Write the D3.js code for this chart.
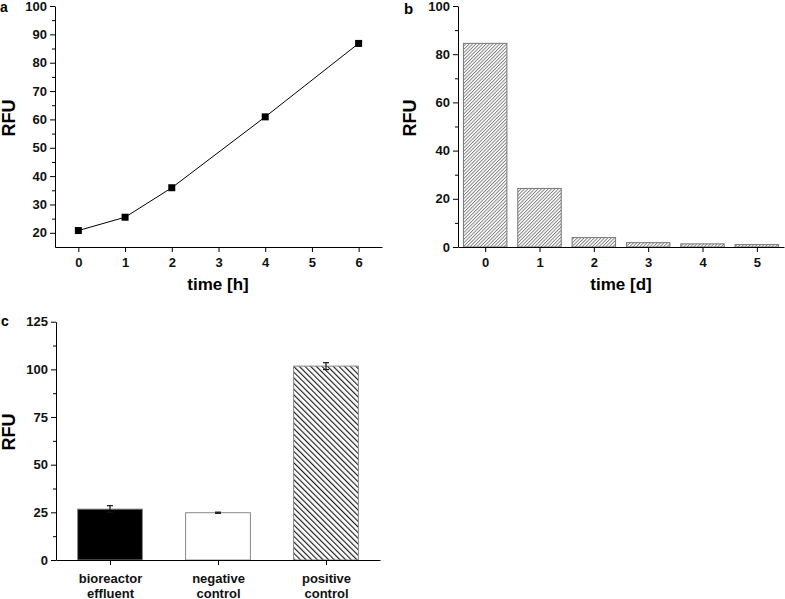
<!DOCTYPE html>
<html>
<head>
  <script src="https://d3js.org/d3.v7.min.js"></script>
  <style>
    body { margin: 0; background: #fff; }
    text { font-family: "Liberation Sans", Arial, sans-serif; font-weight: bold; }
  </style>
</head>
<body>
<script>
  // panel a: RFU over hours
  var hoursA = [0, 1, 2, 4, 6];
  var rfuA = [20.8, 25.5, 35.9, 60.9, 86.8];
  var xTicksA = [0, 1, 2, 3, 4, 5, 6];
  var yTicksA = [20, 30, 40, 50, 60, 70, 80, 90, 100];
  var yMinorA = [25, 35, 45, 55, 65, 75, 85, 95];

  // panel b: RFU over days
  var daysB = [0, 1, 2, 3, 4, 5];
  var rfuB = [84.5, 24.3, 3.9, 1.8, 1.3, 1.0];
  var yTicksB = [0, 20, 40, 60, 80, 100];
  var yMinorB = [10, 30, 50, 70, 90];

  // panel c: samples with error bars
  var groupsC = [["bioreactor", "effluent"], ["negative", "control"], ["positive", "control"]];
  var rfuC = [26.7, 24.8, 101.7];
  var errC = [1.8, 0.3, 1.8];
  var yTicksC = [0, 25, 50, 75, 100, 125];
  var yMinorC = [12.5, 37.5, 62.5, 87.5, 112.5];

  var svg = d3.select("body").append("svg")
      .attr("width", 785)
      .attr("height", 599);

  var defs = svg.append("defs");
  defs.append("pattern")
      .attr("id", "hatchB")
      .attr("patternUnits", "userSpaceOnUse")
      .attr("width", 2.4).attr("height", 2.4)
      .attr("patternTransform", "rotate(45)")
    .append("line")
      .attr("x1", 0.5).attr("y1", 0).attr("x2", 0.5).attr("y2", 2.4)
      .attr("stroke", "#6a6a6a").attr("stroke-width", 0.8);
  defs.append("pattern")
      .attr("id", "hatchC")
      .attr("patternUnits", "userSpaceOnUse")
      .attr("width", 4).attr("height", 4)
      .attr("patternTransform", "rotate(-45)")
    .append("line")
      .attr("x1", 0.6).attr("y1", 0).attr("x2", 0.6).attr("y2", 4)
      .attr("stroke", "#111").attr("stroke-width", 1.1);

  var fmt = d3.format("d");

  function styleAxis(g) {
    g.selectAll("text").style("font-size", "13px").attr("fill", "#111");
    g.selectAll("path, line").attr("stroke", "#000");
  }

  function addAxes(y, ticks, minor, left, xg) {
    var ay = svg.append("g").attr("transform", "translate(" + left + ",0)")
        .call(d3.axisLeft(y).tickValues(ticks).tickFormat(fmt).tickSize(5).tickSizeOuter(0).tickPadding(3));
    styleAxis(ay);
    svg.append("g").attr("transform", "translate(" + left + ",0)")
        .call(d3.axisLeft(y).tickValues(minor).tickSize(3).tickFormat(""))
        .call(function (g) { g.select(".domain").remove(); g.selectAll("line").attr("stroke", "#000"); });
    styleAxis(xg);
  }

  function title(x, y, txt, size, rot) {
    svg.append("text")
      .attr("transform", "translate(" + x + "," + y + ")" + (rot ? " rotate(-90)" : ""))
      .attr("text-anchor", "middle")
      .attr("dominant-baseline", "middle")
      .style("font-size", size + "px")
      .text(txt);
  }

  // ---- panel a ----
  var xA = d3.scaleLinear().domain([-0.5, 6.5]).range([55, 382]);
  var yA = d3.scaleLinear().domain([15, 100]).range([247, 6]);
  var gxA = svg.append("g").attr("transform", "translate(0,247)")
      .call(d3.axisBottom(xA).tickValues(xTicksA).tickFormat(fmt).tickSize(5).tickSizeOuter(0).tickPadding(6));
  addAxes(yA, yTicksA, yMinorA, 55, gxA);

  var ptsA = hoursA.map(function (h, i) { return [h, rfuA[i]]; });
  svg.append("path")
      .datum(ptsA)
      .attr("fill", "none")
      .attr("stroke", "#000")
      .attr("stroke-width", 1)
      .attr("d", d3.line().x(function (d) { return xA(d[0]); }).y(function (d) { return yA(d[1]); }));
  svg.selectAll(".markA").data(ptsA).enter().append("rect")
      .attr("x", function (d) { return xA(d[0]) - 3.5; })
      .attr("y", function (d) { return yA(d[1]) - 3.5; })
      .attr("width", 7).attr("height", 7)
      .attr("fill", "#000");

  title(218, 286, "time [h]", 17, false);
  title(10, 118, "RFU", 18, true);
  svg.append("text").attr("x", 0).attr("y", 12).style("font-size", "14px").text("a");

  // ---- panel b ----
  var xB = d3.scaleLinear().domain([-0.5, 5.5]).range([458, 784]);
  var yB = d3.scaleLinear().domain([0, 100]).range([247, 6]);
  svg.selectAll(".barB").data(rfuB).enter().append("rect")
      .attr("x", function (d, i) { return xB(daysB[i] - 0.4); })
      .attr("y", function (d) { return yB(d); })
      .attr("width", xB(0.4) - xB(-0.4))
      .attr("height", function (d) { return yB(0) - yB(d); })
      .attr("fill", "url(#hatchB)")
      .attr("stroke", "#777")
      .attr("stroke-width", 1);
  var gxB = svg.append("g").attr("transform", "translate(0,247)")
      .call(d3.axisBottom(xB).tickValues(daysB).tickFormat(fmt).tickSize(5).tickSizeOuter(0).tickPadding(6));
  addAxes(yB, yTicksB, yMinorB, 458, gxB);

  title(621, 286, "time [d]", 17, false);
  title(411.5, 118, "RFU", 18, true);
  svg.append("text").attr("x", 404).attr("y", 14).style("font-size", "15px").text("b");

  // ---- panel c ----
  var xC = d3.scaleLinear().domain([-0.5, 2.5]).range([56, 380]);
  var yC = d3.scaleLinear().domain([0, 125]).range([560, 321.7]);
  var fillsC = ["#000", "#fff", "url(#hatchC)"];
  svg.selectAll(".barC").data(rfuC).enter().append("rect")
      .attr("x", function (d, i) { return xC(i - 0.3); })
      .attr("y", function (d) { return yC(d); })
      .attr("width", xC(0.3) - xC(-0.3))
      .attr("height", function (d) { return yC(0) - yC(d); })
      .attr("fill", function (d, i) { return fillsC[i]; })
      .attr("stroke", "#888")
      .attr("stroke-width", 1);

  var errG = svg.selectAll(".errC").data(rfuC).enter().append("g")
      .attr("stroke", "#111").attr("stroke-width", 1.2);
  errG.append("line")
      .attr("x1", function (d, i) { return xC(i); }).attr("x2", function (d, i) { return xC(i); })
      .attr("y1", function (d, i) { return yC(d - errC[i]); })
      .attr("y2", function (d, i) { return yC(d + errC[i]); });
  [-1, 1].forEach(function (s) {
    errG.append("line")
      .attr("x1", function (d, i) { return xC(i) - 3; }).attr("x2", function (d, i) { return xC(i) + 3; })
      .attr("y1", function (d, i) { return yC(d + s * errC[i]); })
      .attr("y2", function (d, i) { return yC(d + s * errC[i]); });
  });

  var gxC = svg.append("g").attr("transform", "translate(0,560)")
      .call(d3.axisBottom(xC).tickValues([0, 1, 2]).tickSize(5).tickSizeOuter(0).tickFormat(""));
  addAxes(yC, yTicksC, yMinorC, 56, gxC);
  gxC.selectAll(".tick").append("text")
      .attr("fill", "#111")
      .attr("text-anchor", "middle")
      .style("font-size", "13px")
      .each(function (d) {
        var t = d3.select(this);
        t.append("tspan").attr("x", 0).attr("y", 22.5).text(groupsC[d][0]);
        t.append("tspan").attr("x", 0).attr("y", 37.5).text(groupsC[d][1]);
      });

  title(10, 432, "RFU", 18, true);
  svg.append("text").attr("x", 1).attr("y", 326).style("font-size", "14px").text("c");
</script>
</body>
</html>
